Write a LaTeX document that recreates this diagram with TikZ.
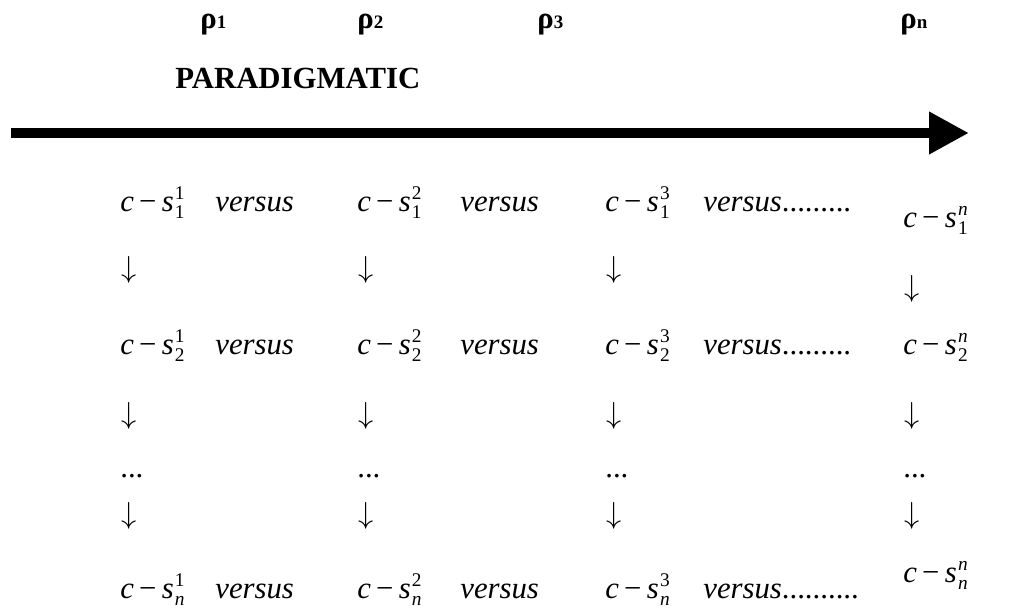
\documentclass[tikz,border=0pt]{standalone}
\usepackage{amsmath}
\usepackage{fontspec}
\setmainfont{Liberation Serif}
\DeclareMathSizes{17.5}{17.5}{11}{8}
\usetikzlibrary{arrows.meta}

% one term c - s^j_i
\newcommand{\cterm}[2]{\textit{c}\hspace{.17em}−\hspace{.17em}\textit{s}\hspace{.04em}$^{\text{#2}}_{\text{#1}}$}
\newcommand{\rhoidx}[1]{ρ{\fontsize{10.8}{12}\selectfont #1}}

\begin{document}
\begin{tikzpicture}[font=\fontsize{17.5}{21}\selectfont,
    term/.style={anchor=base west,inner sep=0pt},
    down/.style={inner sep=0pt},
    rholabel/.style={anchor=base west,inner sep=0pt,font=\fontsize{17.5}{21}\selectfont\bfseries}]
  \useasboundingbox (0,0) rectangle (20.54,-12.2);

  % labels above the axis
  \node[rholabel] (rho1) at (4.00,-0.56) {\rhoidx{1}};
  \node[rholabel] (rho2) at (7.14,-0.56) {\rhoidx{2}};
  \node[rholabel] (rho3) at (10.74,-0.56) {\rhoidx{3}};
  \node[rholabel] (rhon) at (18.00,-0.56) {\rhoidx{n}};
  \node[rholabel] (title) at (3.50,-1.76) {PARADIGMATIC};

  % axis
  \coordinate (axstart) at (0.22,-2.66);
  \coordinate (axend) at (19.38,-2.66);
  \draw[line width=0.21cm,-{Triangle[length=0.8cm,width=0.8cm]}] (axstart) -- (axend);

  % first row
  \node[term] (t11) at (2.40,-4.22) {\cterm{1}{1}};
  \node[term] (v11) at (4.30,-4.22) {\textit{versus}};
  \node[term] (t12) at (7.14,-4.22) {\cterm{1}{2}};
  \node[term] (v12) at (9.20,-4.22) {\textit{versus}};
  \node[term] (t13) at (12.10,-4.22) {\cterm{1}{3}};
  \node[term] (v13) at (14.06,-4.22) {\textit{versus}.........};
  \node[term] (t14) at (18.06,-4.54) {\cterm{1}{\textit{n}}};

  \node[down] (d11) at (2.58,-5.40) {$\downarrow$};
  \node[down] (d12) at (7.32,-5.40) {$\downarrow$};
  \node[down] (d13) at (12.28,-5.40) {$\downarrow$};
  \node[down] (d14) at (18.24,-5.78) {$\downarrow$};

  % second row
  \node[term] (t21) at (2.40,-7.08) {\cterm{2}{1}};
  \node[term] (v21) at (4.30,-7.08) {\textit{versus}};
  \node[term] (t22) at (7.14,-7.08) {\cterm{2}{2}};
  \node[term] (v22) at (9.20,-7.08) {\textit{versus}};
  \node[term] (t23) at (12.10,-7.08) {\cterm{2}{3}};
  \node[term] (v23) at (14.06,-7.08) {\textit{versus}.........};
  \node[term] (t24) at (18.06,-7.08) {\cterm{2}{\textit{n}}};

  \node[down] (d21) at (2.58,-8.32) {$\downarrow$};
  \node[down] (d22) at (7.32,-8.32) {$\downarrow$};
  \node[down] (d23) at (12.28,-8.32) {$\downarrow$};
  \node[down] (d24) at (18.24,-8.32) {$\downarrow$};

  \node[term] (e1) at (2.40,-9.54) {...};
  \node[term] (e2) at (7.14,-9.54) {...};
  \node[term] (e3) at (12.10,-9.54) {...};
  \node[term] (e4) at (18.06,-9.54) {...};

  \node[down] (d31) at (2.58,-10.32) {$\downarrow$};
  \node[down] (d32) at (7.32,-10.32) {$\downarrow$};
  \node[down] (d33) at (12.28,-10.32) {$\downarrow$};
  \node[down] (d34) at (18.24,-10.32) {$\downarrow$};

  % last row
  \node[term] (tn1) at (2.40,-11.96) {\cterm{\textit{n}}{1}};
  \node[term] (vn1) at (4.30,-11.96) {\textit{versus}};
  \node[term] (tn2) at (7.14,-11.96) {\cterm{\textit{n}}{2}};
  \node[term] (vn2) at (9.20,-11.96) {\textit{versus}};
  \node[term] (tn3) at (12.10,-11.96) {\cterm{\textit{n}}{3}};
  \node[term] (vn3) at (14.06,-11.96) {\textit{versus}..........};
  \node[term] (tn4) at (18.06,-11.64) {\cterm{\textit{n}}{\textit{n}}};
\end{tikzpicture}
\end{document}
